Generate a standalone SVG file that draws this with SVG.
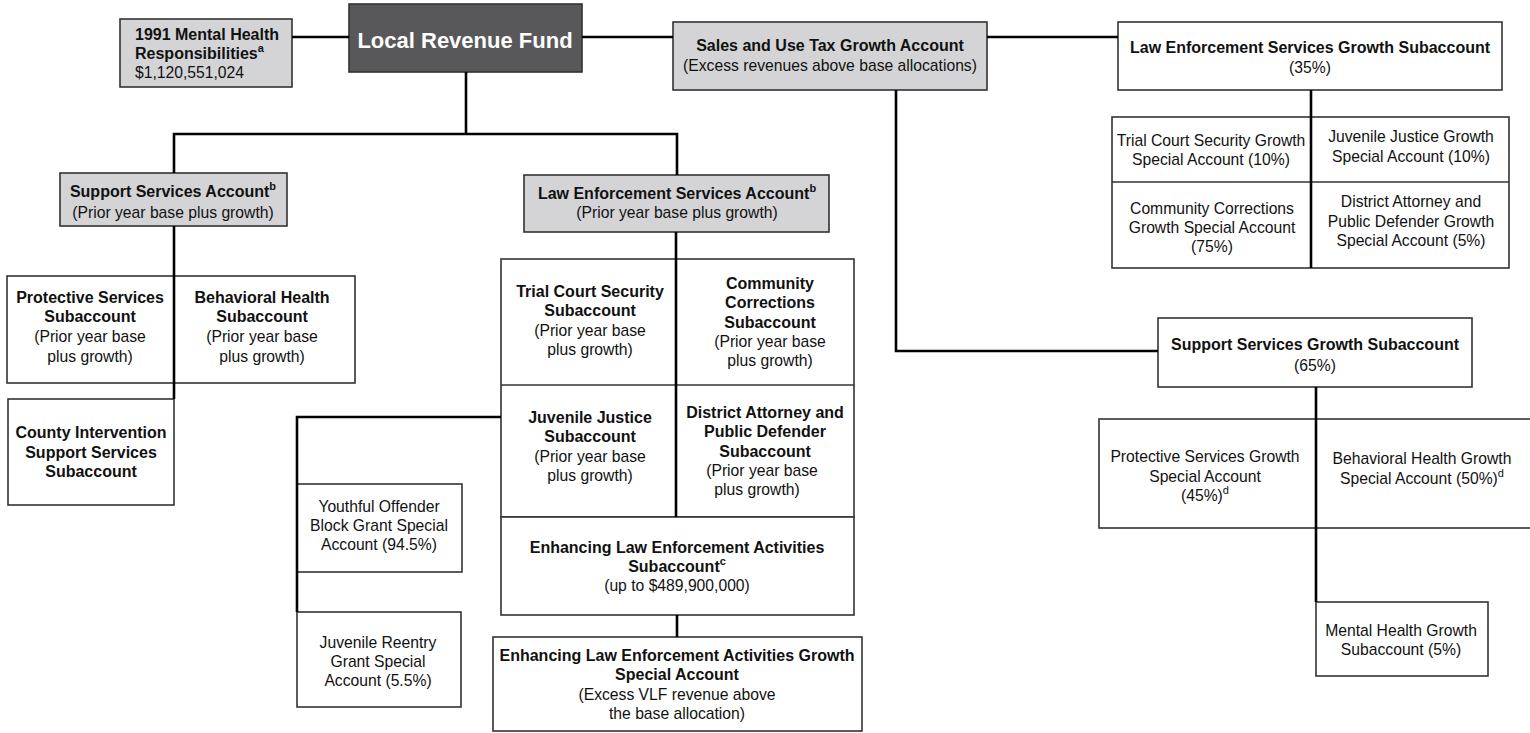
<svg xmlns="http://www.w3.org/2000/svg" width="1530" height="733" viewBox="0 0 1530 733">
<style>
text{font-family:"Liberation Sans",Arial,Helvetica,sans-serif;font-size:15.7px;fill:#111;text-anchor:middle}
.b{font-weight:bold;font-size:16px}
.sup{font-size:11px;font-weight:bold}
.box{fill:#fff;stroke:#333;stroke-width:1.6}
.gray{fill:#d4d4d6;stroke:#333;stroke-width:1.6}
.dark{fill:#58585a;stroke:#333;stroke-width:1.6}
.div{stroke:#333;stroke-width:1.6;fill:none}
.con{stroke:#000;stroke-width:2.6;fill:none}
</style>
<rect width="1530" height="733" fill="#fff"/>

<g id="mh1991">
<rect class="gray" x="120" y="19" width="172" height="68"/>
<text class="b" x="135" y="40" style="text-anchor:start">1991 Mental Health</text>
<text class="b" x="135" y="59" style="text-anchor:start">Responsibilities<tspan class="sup" dy="-7">a</tspan></text>
<text x="135" y="78" style="text-anchor:start">$1,120,551,024</text>
</g>

<g id="lrf">
<rect class="dark" x="349" y="4" width="233" height="68"/>
<text class="b" x="465" y="48" style="font-size:22px;fill:#fff">Local Revenue Fund</text>
</g>

<g id="sales">
<rect class="gray" x="673" y="22" width="314" height="68"/>
<text class="b" x="830" y="51">Sales and Use Tax Growth Account</text>
<text x="830" y="71">(Excess revenues above base allocations)</text>
</g>

<g id="lesgrowth">
<rect class="box" x="1118" y="22" width="384" height="68"/>
<text class="b" x="1310" y="53">Law Enforcement Services Growth Subaccount</text>
<text x="1310" y="73">(35%)</text>
</g>

<g id="lesgrowthgrid">
<rect class="box" x="1112" y="117" width="397" height="151"/>
<line class="div" x1="1112" y1="182" x2="1509" y2="182"/>
<text x="1211" y="146">Trial Court Security Growth</text>
<text x="1211" y="165">Special Account (10%)</text>
<text x="1411" y="142">Juvenile Justice Growth</text>
<text x="1411" y="162">Special Account (10%)</text>
<text x="1212" y="214">Community Corrections</text>
<text x="1212" y="233">Growth Special Account</text>
<text x="1212" y="252">(75%)</text>
<text x="1411" y="207">District Attorney and</text>
<text x="1411" y="227">Public Defender Growth</text>
<text x="1411" y="246">Special Account (5%)</text>
</g>

<g id="ssaccount">
<rect class="gray" x="60" y="173" width="227" height="53"/>
<text class="b" x="173" y="197">Support Services Account<tspan class="sup" dy="-7">b</tspan></text>
<text x="173" y="218">(Prior year base plus growth)</text>
</g>

<g id="ssgrid">
<rect class="box" x="7" y="276" width="348" height="107"/>
<text class="b" x="90" y="303">Protective Services</text>
<text class="b" x="90" y="322">Subaccount</text>
<text x="90" y="342">(Prior year base</text>
<text x="90" y="362">plus growth)</text>
<text class="b" x="262" y="303">Behavioral Health</text>
<text class="b" x="262" y="322">Subaccount</text>
<text x="262" y="342">(Prior year base</text>
<text x="262" y="362">plus growth)</text>
</g>

<g id="county">
<rect class="box" x="8" y="399" width="166" height="106"/>
<text class="b" x="91" y="438">County Intervention</text>
<text class="b" x="91" y="458">Support Services</text>
<text class="b" x="91" y="477">Subaccount</text>
</g>

<g id="lesaccount">
<rect class="gray" x="524" y="175" width="305" height="57"/>
<text class="b" x="677" y="199">Law Enforcement Services Account<tspan class="sup" dy="-7">b</tspan></text>
<text x="677" y="218">(Prior year base plus growth)</text>
</g>

<g id="lesgrid">
<rect class="box" x="501" y="259" width="353" height="258"/>
<line class="div" x1="501" y1="385" x2="854" y2="385"/>
<text class="b" x="590" y="297">Trial Court Security</text>
<text class="b" x="590" y="316">Subaccount</text>
<text x="590" y="336">(Prior year base</text>
<text x="590" y="355">plus growth)</text>
<text class="b" x="770" y="289">Community</text>
<text class="b" x="770" y="308">Corrections</text>
<text class="b" x="770" y="328">Subaccount</text>
<text x="770" y="347">(Prior year base</text>
<text x="770" y="366">plus growth)</text>
<text class="b" x="590" y="423">Juvenile Justice</text>
<text class="b" x="590" y="442">Subaccount</text>
<text x="590" y="462">(Prior year base</text>
<text x="590" y="481">plus growth)</text>
<text class="b" x="765" y="418">District Attorney and</text>
<text class="b" x="765" y="437">Public Defender</text>
<text class="b" x="765" y="457">Subaccount</text>
<text x="762" y="476">(Prior year base</text>
<text x="757" y="495">plus growth)</text>
</g>

<g id="enhancing">
<rect class="box" x="501" y="517" width="353" height="98"/>
<text class="b" x="677" y="553">Enhancing Law Enforcement Activities</text>
<text class="b" x="677" y="572">Subaccount<tspan class="sup" dy="-7">c</tspan></text>
<text x="677" y="591">(up to $489,900,000)</text>
</g>

<g id="enhancinggrowth">
<rect class="box" x="493" y="637" width="369" height="94"/>
<text class="b" x="677" y="661">Enhancing Law Enforcement Activities Growth</text>
<text class="b" x="677" y="680">Special Account</text>
<text x="677" y="700">(Excess VLF revenue above</text>
<text x="677" y="719">the base allocation)</text>
</g>

<g id="youthful">
<rect class="box" x="297" y="484" width="165" height="88"/>
<text x="379" y="512">Youthful Offender</text>
<text x="379" y="531">Block Grant Special</text>
<text x="379" y="550">Account (94.5%)</text>
</g>

<g id="reentry">
<rect class="box" x="297" y="612" width="164" height="95"/>
<text x="378" y="648">Juvenile Reentry</text>
<text x="378" y="667">Grant Special</text>
<text x="378" y="686">Account (5.5%)</text>
</g>

<g id="ssgrowth">
<rect class="box" x="1158" y="318" width="314" height="69"/>
<text class="b" x="1315" y="350">Support Services Growth Subaccount</text>
<text x="1315" y="371">(65%)</text>
</g>

<g id="ssgrowthgrid">
<rect class="box" x="1099" y="419" width="440" height="109"/>
<text x="1205" y="462">Protective Services Growth</text>
<text x="1205" y="482">Special Account</text>
<text x="1205" y="501">(45%)<tspan class="sup" dy="-7" style="font-weight:normal">d</tspan></text>
<text x="1422" y="464">Behavioral Health Growth</text>
<text x="1422" y="484">Special Account (50%)<tspan class="sup" dy="-7" style="font-weight:normal">d</tspan></text>
</g>

<g id="mhgrowth">
<rect class="box" x="1316" y="602" width="172" height="74"/>
<text x="1401" y="636">Mental Health Growth</text>
<text x="1401" y="655">Subaccount (5%)</text>
</g>

<g id="connectors">
<line class="con" x1="292" y1="37" x2="349" y2="37"/>
<line class="con" x1="582" y1="37" x2="673" y2="37"/>
<line class="con" x1="987" y1="37" x2="1118" y2="37"/>
<polyline class="con" points="466,72 466,134"/>
<polyline class="con" points="174,173 174,134 677,134 677,175"/>
<line class="con" x1="174" y1="226" x2="174" y2="399"/>
<line class="con" x1="676" y1="232" x2="676" y2="517"/>
<line class="con" x1="677" y1="615" x2="677" y2="637"/>
<polyline class="con" points="501,417 297,417 297,612"/>
<polyline class="con" points="896,90 896,351 1158,351"/>
<line class="con" x1="1311" y1="90" x2="1311" y2="268"/>
<line class="con" x1="1316" y1="387" x2="1316" y2="602"/>
</g>
</svg>
